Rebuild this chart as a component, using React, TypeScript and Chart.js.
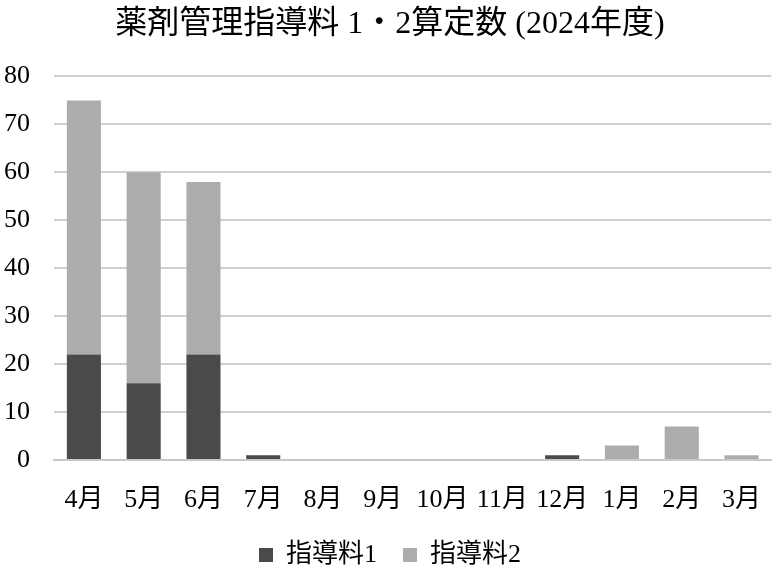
import { useEffect, useRef } from "react";
import { Chart, registerables } from "chart.js";

Chart.register(...registerables);

const months = ["4月", "5月", "6月", "7月", "8月", "9月", "10月", "11月", "12月", "1月", "2月", "3月"];
const fee1 = [22, 16, 22, 1, 0, 0, 0, 0, 1, 0, 0, 0];
const fee2 = [53, 44, 36, 0, 0, 0, 0, 0, 0, 3, 7, 1];

const FONT = "'Liberation Serif', 'Noto Sans CJK JP', serif";

export default function App() {
  const canvasRef = useRef<HTMLCanvasElement>(null);

  useEffect(() => {
    if (!canvasRef.current) return;
    document.body.style.margin = "0";

    const chart = new Chart(canvasRef.current, {
      type: "bar",
      data: {
        labels: months,
        datasets: [
          { label: "指導料1", data: fee1, backgroundColor: "#4a4a4a", barPercentage: 0.57, categoryPercentage: 1 },
          { label: "指導料2", data: fee2, backgroundColor: "#acacac", barPercentage: 0.57, categoryPercentage: 1 },
        ],
      },
      options: {
        animation: false,
        responsive: false,
        layout: { padding: { left: 2, right: 0, top: 0, bottom: 0 } },
        plugins: {
          title: {
            display: true,
            text: "薬剤管理指導料 1・2算定数 (2024年度)",
            color: "#000",
            font: { family: FONT, size: 32, weight: "normal" },
            padding: { top: 5, bottom: 33 },
          },
          legend: {
            position: "bottom",
            maxHeight: 52,
            labels: {
              color: "#000",
              font: { family: FONT, size: 26 },
              boxWidth: 14,
              boxHeight: 14,
              padding: 26,
            },
          },
          tooltip: { enabled: false },
        },
        scales: {
          x: {
            stacked: true,
            grid: { display: false },
            border: { color: "#c8c8c8", width: 2 },
            ticks: { color: "#000", font: { family: FONT, size: 26 }, padding: 17, maxRotation: 0, autoSkip: false },
            afterFit: (scale) => { scale.height = 56; },
          },
          y: {
            stacked: true,
            min: 0,
            max: 80,
            ticks: { stepSize: 10, color: "#000", font: { family: FONT, size: 26 }, padding: 24 },
            grid: { color: "#d0d0d0", lineWidth: 2, drawTicks: false },
            border: { display: false },
            afterFit: (scale) => { scale.width = 52; },
          },
        },
      },
    });

    return () => chart.destroy();
  }, []);

  return (
    <div style={{ width: 778, height: 568, background: "#fff" }}>
      <canvas ref={canvasRef} width={778} height={568} />
    </div>
  );
}
